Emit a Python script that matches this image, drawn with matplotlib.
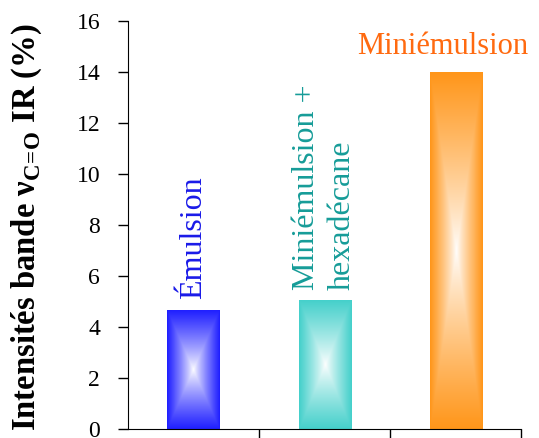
import numpy as np
import matplotlib
matplotlib.use("Agg")
import matplotlib.pyplot as plt
from matplotlib.colors import to_rgb

categories = ["Émulsion", "Miniémulsion +\nhexadécane", "Miniémulsion"]
values = [4.63, 5.02, 14.0]
bar_colors = ["#1f1fff", "#45d0cb", "#ff961a"]
label_colors = ["#1a1ae8", "#169c98", "#ff6a10"]

plt.rcParams["font.family"] = ["Liberation Serif", "DejaVu Serif"]
plt.rcParams["mathtext.fontset"] = "custom"
plt.rcParams["mathtext.rm"] = "Liberation Serif"
plt.rcParams["mathtext.bf"] = "Liberation Serif:bold"

fig = plt.figure(figsize=(5.39, 4.38), dpi=100)
ax = fig.add_axes([0.2375, 0.0205, 0.73, 0.9315])

width = 0.4
x = np.arange(len(categories))


def box_gradient(ax, xc, h, color, w):
    # rectangular "path" gradient: white in the centre, colour at the edges
    u = np.linspace(-1, 1, 60)
    v = np.linspace(-1, 1, 300)
    U, V = np.meshgrid(u, v)
    t = np.maximum(np.abs(U), np.abs(V)) ** 0.85
    c = np.array(to_rgb(color))
    img = (1 - t[..., None]) * np.ones(3) + t[..., None] * c
    ax.imshow(img, extent=[xc - w / 2, xc + w / 2, 0, h], aspect="auto",
              interpolation="bilinear", zorder=2)


for xi, val, col in zip(x, values, bar_colors):
    box_gradient(ax, xi, val, col, width)

ax.set_xlim(-0.5, 2.5)
ax.set_ylim(0, 16)
ax.set_yticks(np.arange(0, 17, 2))
ax.set_xticks([0.5, 1.5, 2.5])
ax.set_xticklabels([])
ax.tick_params(axis="y", direction="out", length=7, width=1, labelsize=17, pad=13)
ax.tick_params(axis="x", direction="out", length=7, width=1)
for s in ["top", "right"]:
    ax.spines[s].set_visible(False)

# y label placed by hand so it fills the left margin like the original
fig.text(0.05, 0.482, r"Intensités bande $\mathbf{\nu}_{\mathbf{C\!=\!O}}$ IR (%)",
         rotation=90, ha="center", va="center", fontsize=23.5, fontweight="bold")

# labels above bars
ax.text(x[0], values[0] + 0.45, categories[0], rotation=90, ha="center",
        va="bottom", color=label_colors[0], fontsize=23)
ax.text(x[1], values[1] + 0.45, categories[1], rotation=90, ha="center",
        va="bottom", color=label_colors[1], fontsize=23, linespacing=1.3,
        multialignment="left")
ax.text(x[2] - 0.1, values[2] + 0.45, categories[2], ha="center",
        va="bottom", color=label_colors[2], fontsize=22, clip_on=False)

fig.savefig("out.png", dpi=100)
